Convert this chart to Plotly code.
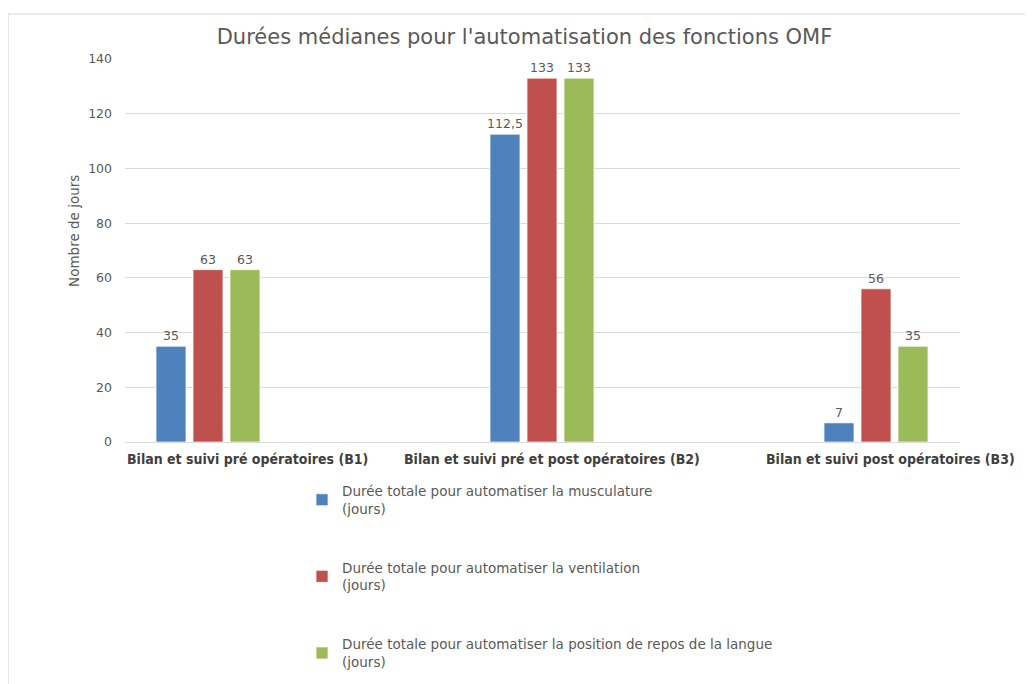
import plotly.graph_objects as go

categories = ["Bilan et suivi pré opératoires (B1)",
              "Bilan et suivi pré et post opératoires (B2)",
              "Bilan et suivi post opératoires (B3)"]
series_names = ["Durée totale pour automatiser la musculature<br>(jours)",
                "Durée totale pour automatiser la ventilation<br>(jours)",
                "Durée totale pour automatiser la position de repos de la langue<br>(jours)"]
musculature = [35, 112.5, 7]
ventilation = [63, 133, 56]
langue = [63, 133, 35]
colors = ["#4F81BD", "#C0504D", "#9BBB59"]
label_shift = [39, 10, 14]

TXT = "#595959"
FONT = "DejaVu Sans"

fig = go.Figure()
for i, (name, vals, col) in enumerate(zip(series_names, [musculature, ventilation, langue], colors)):
    fig.add_trace(go.Bar(
        x=categories, y=vals, name=name, legendgroup=f"g{i}",
        marker=dict(color=col, line=dict(color="rgba(255,255,255,0.7)", width=1)),
        text=[("%g" % v).replace(".", ",") for v in vals],
        textposition="outside", cliponaxis=False, constraintext="none",
        textfont=dict(family=FONT, size=12.5, color=TXT),
    ))

for c, s in zip(categories, label_shift):
    fig.add_annotation(x=c, y=0, xref="x", yref="y", yanchor="top", yshift=-7,
                       xshift=s, text=f"<b>{c}</b>", showarrow=False,
                       font=dict(family="Liberation Sans Narrow, DejaVu Sans Condensed, Arial Narrow", size=14, color="#404040"))

# y-axis title (placed slightly above centre as in the reference)
fig.add_annotation(x=-0.0611, y=0.551, xref="paper", yref="paper", xanchor="center", yanchor="middle",
                   text="Nombre de jours", textangle=-90, showarrow=False,
                   font=dict(family=FONT, size=13.5, color=TXT))

fig.add_shape(type="rect", xref="paper", yref="paper", x0=-0.1401, x1=1.3, y0=-1.0, y1=1.1175,
              line=dict(color="#D9D9D9", width=1.2), fillcolor="rgba(0,0,0,0)", layer="below")

fig.update_layout(
    width=1033, height=684,
    margin=dict(l=117, r=81, t=51, b=250, autoexpand=False),
    paper_bgcolor="white", plot_bgcolor="white",
    barmode="group", bargap=0.6677, bargroupgap=0.19,
    title=dict(text="Durées médianes pour l'automatisation des fonctions OMF",
               x=0.5, xanchor="center", y=0.9576, yanchor="middle",
               font=dict(family=FONT, size=21, color=TXT)),
    xaxis=dict(range=[-0.2485, 2.2515], showticklabels=False, showgrid=False,
               showline=True, linecolor="#D9D9D9", linewidth=1, ticks=""),
    yaxis=dict(range=[0, 140], dtick=20, showgrid=True, gridcolor="#D9D9D9", gridwidth=1,
               zeroline=False, showline=False, ticks="", ticklabelstandoff=12,
               tickfont=dict(family=FONT, size=12.5, color=TXT)),
    legend=dict(orientation="v", x=0.212, xanchor="left", y=-0.088, yanchor="top",
                traceorder="grouped", tracegroupgap=38.5,
                font=dict(family=FONT, size=13.5, color=TXT), bgcolor="rgba(0,0,0,0)"),
    showlegend=True,
)

fig.write_html("out.html")
